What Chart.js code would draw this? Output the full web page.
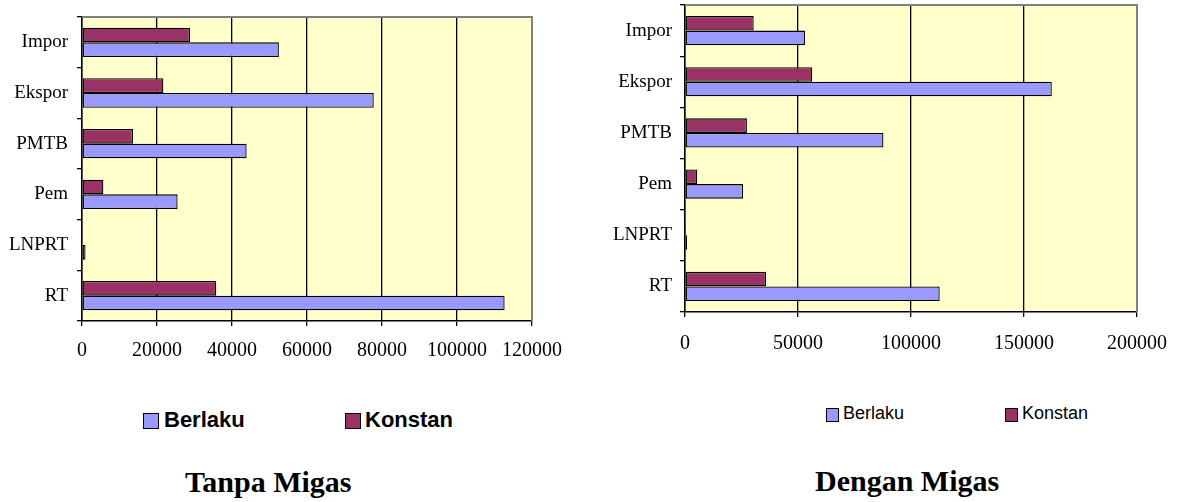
<!DOCTYPE html>
<html>
<head>
<meta charset="utf-8">
<script src="https://cdn.jsdelivr.net/npm/chart.js@4.4.1/dist/chart.umd.min.js"></script>
<style>
  html, body { margin: 0; padding: 0; background: #fff; }
  body { width: 1178px; height: 502px; position: relative; overflow: hidden; }
  .wrap { position: absolute; top: 0; }
  .leg { position: absolute; font-family: "Liberation Sans", Arial, sans-serif; color: #000; white-space: nowrap; line-height: 1; }
  .box { position: absolute; border: 1.5px solid #000; box-sizing: border-box; }
  .ttl { position: absolute; font-family: "Liberation Serif", "Times New Roman", serif; font-weight: bold; font-size: 30px; color: #000; white-space: nowrap; line-height: 1; }
</style>
</head>
<body>
<div class="wrap" style="left:0px;width:575px;height:372px;"><canvas id="c1" width="575" height="372"></canvas></div>
<div class="wrap" style="left:590px;width:588px;height:372px;"><canvas id="c2" width="588" height="372"></canvas></div>

<div class="box" style="left:143px;top:413px;width:16px;height:16px;background:#9999FF;"></div>
<div class="leg" style="left:164px;top:409px;font-size:22px;font-weight:bold;">Berlaku</div>
<div class="box" style="left:345px;top:413px;width:16px;height:16px;background:#993366;"></div>
<div class="leg" style="left:365px;top:409px;font-size:22px;font-weight:bold;">Konstan</div>

<div class="box" style="left:826px;top:408px;width:13px;height:14px;background:#9999FF;"></div>
<div class="leg" style="left:843px;top:404px;font-size:18px;">Berlaku</div>
<div class="box" style="left:1005px;top:408px;width:13px;height:14px;background:#993366;"></div>
<div class="leg" style="left:1022px;top:404px;font-size:18px;">Konstan</div>

<div class="ttl" style="left:185px;top:467px;">Tanpa Migas</div>
<div class="ttl" style="left:815px;top:466px;">Dengan Migas</div>

<script>
const categories = ['Impor', 'Ekspor', 'PMTB', 'Pem', 'LNPRT', 'RT'];
const tanpaBerlaku = [52500, 77800, 43900, 25500, 950, 112700];
const tanpaKonstan = [28800, 21700, 13600, 5700, 150, 35800];
const denganBerlaku = [53100, 162300, 87800, 25700, 900, 112700];
const denganKonstan = [30400, 56300, 27400, 5400, 500, 35900];
const tanpaMax = 120000, tanpaStep = 20000;
const denganMax = 200000, denganStep = 50000;
const seriesNames = ['Berlaku', 'Konstan'];

const framePlugin = {
  id: 'frame',
  beforeDraw(chart) {
    const a = chart.chartArea, ctx = chart.ctx;
    ctx.save();
    ctx.fillStyle = '#FFFFCC';
    ctx.fillRect(a.left, a.top, a.right - a.left, a.bottom - a.top);
    ctx.restore();
  },
  beforeDatasetsDraw(chart) {
    const a = chart.chartArea, ctx = chart.ctx;
    ctx.save();
    ctx.strokeStyle = '#808080';
    ctx.lineWidth = 2;
    ctx.beginPath();
    ctx.moveTo(a.left, a.top);
    ctx.lineTo(a.right, a.top);
    ctx.lineTo(a.right, a.bottom);
    ctx.stroke();
    ctx.restore();
  }
};

function makeChart(id, berlaku, konstan, max, step, g) {
  return new Chart(document.getElementById(id), {
    type: 'bar',
    data: {
      labels: categories,
      datasets: [
        { label: seriesNames[1], data: konstan, backgroundColor: '#993366', borderColor: '#000', borderWidth: 1.3, borderSkipped: false },
        { label: seriesNames[0], data: berlaku, backgroundColor: '#9999FF', borderColor: '#000', borderWidth: 1.3, borderSkipped: false }
      ]
    },
    options: {
      indexAxis: 'y',
      responsive: false,
      animation: false,
      layout: { padding: { left: 0, top: g.top, right: g.right, bottom: 0 } },
      datasets: { bar: { barPercentage: 1, categoryPercentage: g.cat } },
      plugins: { legend: { display: false }, tooltip: { enabled: false } },
      scales: {
        x: {
          min: 0, max: max,
          ticks: { stepSize: step, color: '#000', padding: g.xpad, maxRotation: 0, autoSkip: false,
                   font: { family: 'Liberation Serif', size: 20 },
                   callback: (v) => String(v) },
          grid: { color: '#000', lineWidth: 1.3, tickLength: 5, tickColor: '#000', drawTicks: true },
          border: { color: '#000', width: 1.5 },
          afterFit(s) { s.height = g.xh; s.paddingLeft = 0; s.paddingRight = 0; }
        },
        y: {
          ticks: { color: '#000', padding: g.ypad, font: { family: 'Liberation Serif', size: 19 } },
          grid: { drawOnChartArea: false, offset: true, tickLength: 5, color: '#000', lineWidth: 1.3 },
          border: { color: '#000', width: 1.5 },
          afterFit(s) { s.width = g.yw; s.paddingTop = 0; s.paddingBottom = 0; }
        }
      }
    },
    plugins: [framePlugin]
  });
}

makeChart('c1', tanpaBerlaku, tanpaKonstan, tanpaMax, tanpaStep,
  { top: 17, right: 43, xh: 51, yw: 82, xpad: 13, ypad: 9, cat: 0.58 });
makeChart('c2', denganBerlaku, denganKonstan, denganMax, denganStep,
  { top: 5, right: 41, xh: 60, yw: 95, xpad: 15, ypad: 8, cat: 0.57 });
</script>
</body>
</html>
